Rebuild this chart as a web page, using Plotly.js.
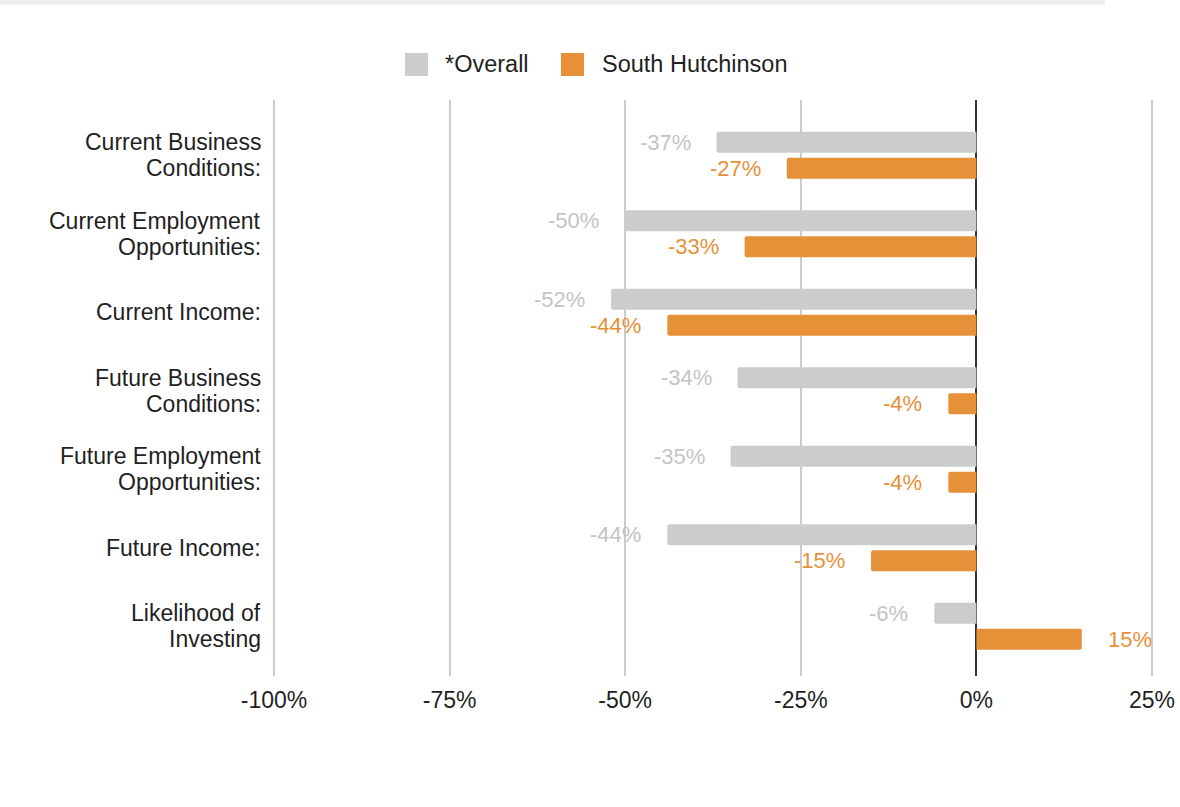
<!DOCTYPE html>
<html>
<head>
<meta charset="utf-8">
<script src="https://cdn.plot.ly/plotly-3.0.1.min.js"></script>
<style>
  html, body { margin: 0; padding: 0; background: #ffffff; }
  #chart { width: 1180px; height: 807px; }
</style>
</head>
<body>
<div id="chart"></div>
<script>
// ---- data ----
const categories = [
  'Current Business<br>Conditions:',
  'Current Employment<br>Opportunities:',
  'Current Income:',
  'Future Business<br>Conditions:',
  'Future Employment<br>Opportunities:',
  'Future Income:',
  'Likelihood of<br>Investing'
];
const overall = [-37, -50, -52, -34, -35, -44, -6];
const southHutchinson = [-27, -33, -44, -4, -4, -15, 15];
const seriesNames = ['*Overall', 'South Hutchinson'];
const tickVals = [-100, -75, -50, -25, 0, 25];
const tickLabels = ['-100%', '-75%', '-50%', '-25%', '0%', '25%'];

// ---- styles ----
const FONT = 'Liberation Sans, Arial, Helvetica, sans-serif';
const GRAY = '#cccccc';
const ORANGE = '#e69138';
const GRAY_TEXT = '#c4c4c4';
const TEXT = '#1f1f1f';

// plot area in pixels
const W = 1180, H = 807;
const L = 272, R = 26, T = 100, B = 131;
const pw = W - L - R, ph = H - T - B;
const px = v => (v - L) / pw;       // pixel x -> paper x
const py = v => (H - B - v) / ph;   // pixel y -> paper y

const traces = [
  {
    type: 'bar', orientation: 'h', name: seriesNames[0],
    y: categories, x: overall,
    marker: { color: GRAY, cornerradius: 2 },
    hoverinfo: 'x+name', showlegend: false
  },
  {
    type: 'bar', orientation: 'h', name: seriesNames[1],
    y: categories, x: southHutchinson,
    marker: { color: ORANGE, cornerradius: 2 },
    hoverinfo: 'x+name', showlegend: false
  }
];

const annotations = [];
function addLabels(values, color, yshift) {
  values.forEach((v, i) => {
    annotations.push({
      x: v, y: categories[i], xref: 'x', yref: 'y',
      text: v + '%', showarrow: false,
      xanchor: v < 0 ? 'right' : 'left',
      xshift: v < 0 ? -24 : 24,
      yshift: yshift, yanchor: 'middle',
      font: { family: FONT, size: 22, color: color }
    });
  });
}
addLabels(overall, GRAY_TEXT, 13);
addLabels(southHutchinson, ORANGE, -13);

// category labels (right-aligned, tight line spacing)
const LINE_H = 26;
categories.forEach(cat => {
  const lines = cat.split('<br>');
  lines.forEach((ln, k) => {
    annotations.push({
      xref: 'paper', yref: 'y', x: px(263), y: cat,
      xanchor: 'right', yanchor: 'middle', showarrow: false,
      yshift: ((lines.length - 1) / 2 - k) * LINE_H,
      text: ln, font: { family: FONT, size: 23, color: TEXT }
    });
  });
});

// custom legend
const legendItems = [
  { name: seriesNames[0], color: GRAY, box: [405, 428], text: 443 },
  { name: seriesNames[1], color: ORANGE, box: [561, 584], text: 600 }
];
const shapes = [
  { type: 'rect', xref: 'paper', yref: 'paper',
    x0: px(0), x1: px(1105), y0: py(0), y1: py(5),
    fillcolor: '#edeef0', line: { width: 0 }, layer: 'below' }
];
legendItems.forEach(it => {
  shapes.push({ type: 'rect', xref: 'paper', yref: 'paper',
    x0: px(it.box[0]), x1: px(it.box[1]), y0: py(76), y1: py(53),
    fillcolor: it.color, line: { width: 0 } });
  annotations.push({ xref: 'paper', yref: 'paper', x: px(it.text), y: py(64),
    xanchor: 'left', yanchor: 'middle', showarrow: false, text: it.name,
    font: { family: FONT, size: 23.5, color: TEXT } });
});

const layout = {
  width: W, height: H,
  margin: { l: L, r: R, t: T, b: B, pad: 0 },
  paper_bgcolor: '#ffffff', plot_bgcolor: '#ffffff',
  font: { family: FONT, size: 23, color: TEXT },
  barmode: 'group', bargap: 0.338, bargroupgap: 0.19,
  showlegend: false,
  xaxis: {
    range: [-100.28, 25.28], tickvals: tickVals, ticktext: tickLabels,
    showgrid: true, gridcolor: '#cccccc', gridwidth: 1.5,
    zeroline: true, zerolinecolor: '#333333', zerolinewidth: 1.5,
    ticks: 'outside', ticklen: 3, tickcolor: 'rgba(0,0,0,0)',
    tickfont: { family: FONT, size: 23, color: TEXT },
    showline: false, fixedrange: true
  },
  yaxis: {
    type: 'category', range: [6.633, -0.704],
    showgrid: false, zeroline: false, showline: false,
    showticklabels: false, ticks: '',
    fixedrange: true
  },
  shapes: shapes,
  annotations: annotations
};

Plotly.newPlot('chart', traces, layout, { displayModeBar: false });
</script>
</body>
</html>
